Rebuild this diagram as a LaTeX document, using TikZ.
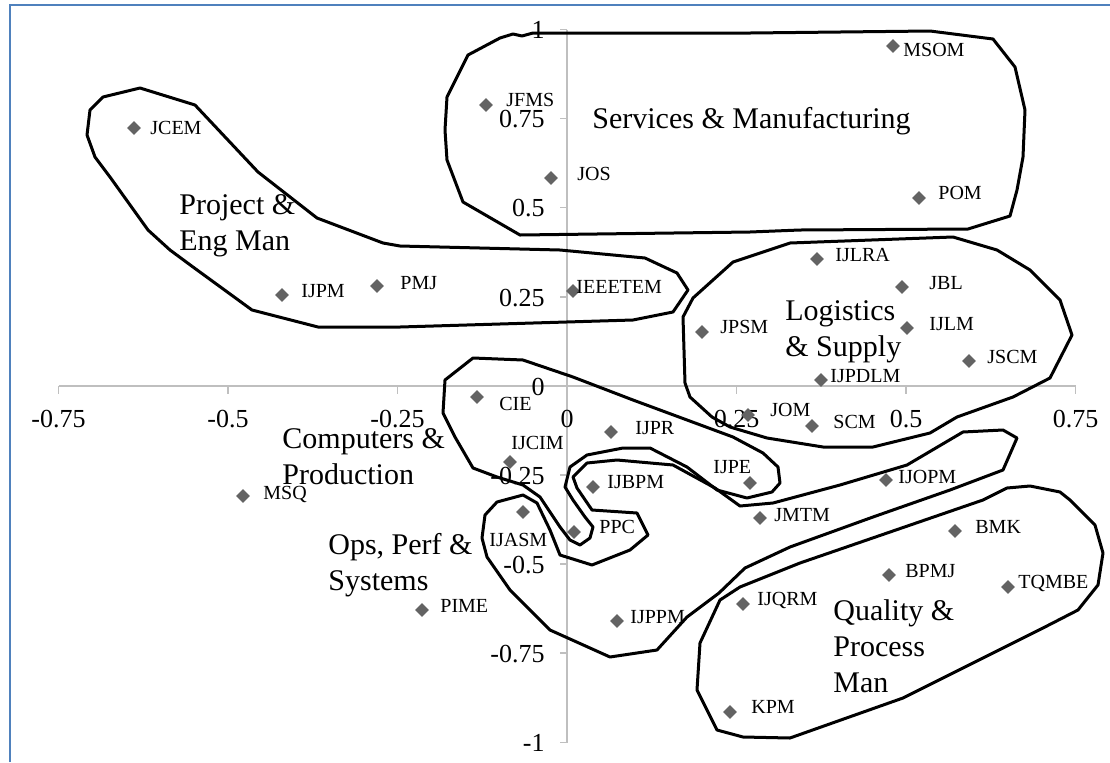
\documentclass[tikz,border=0pt]{standalone}
\usepackage{fontspec}
\setmainfont{Liberation Serif}
\usetikzlibrary{shapes.geometric}
\definecolor{ptgray}{HTML}{636363}
\definecolor{axgray}{HTML}{BFBFBF}
\definecolor{frameblue}{HTML}{4F81BD}
\begin{document}
\begin{tikzpicture}[x=0.5pt,y=-0.5pt,
 blob/.style={draw=black, line width=1.5pt, line join=round},
 axisline/.style={draw=axgray, line width=0.6pt},
 pt/.style={diamond, fill=ptgray, inner sep=0pt, minimum width=7pt, minimum height=7pt},
 lab/.style={anchor=west, inner sep=0pt, font=\fontsize{10}{12}\selectfont, text height=6.6pt, text depth=0pt},
 tickx/.style={anchor=base, inner sep=0pt, font=\fontsize{13}{15}\selectfont},
 ticky/.style={anchor=base east, inner sep=0pt, font=\fontsize{13}{15}\selectfont},
 grp/.style={anchor=north west, inner sep=0pt, align=left, font=\fontsize{15}{18}\selectfont},
 grpone/.style={anchor=base west, inner sep=0pt, font=\fontsize{15}{18}\selectfont}]
\useasboundingbox (0,0) rectangle (1110,762);
\fill[white] (0,0) rectangle (1110,762);
\draw[frameblue, line width=1pt] (10,762) -- (10,5) -- (1110,5);

% axes
\coordinate (xl) at (58.5,386);
\coordinate (xr) at (1075.5,386);
\coordinate (yt) at (567,29.5);
\coordinate (yb) at (567,742.5);
\draw[axisline] (xl) -- (xr);
\draw[axisline] (yt) -- (yb);
\foreach \xv/\t [count=\i] in {58.5/-0.75, 228/-0.5, 397.5/-0.25, 567/0, 736.5/0.25, 906/0.5, 1075.5/0.75} {
  \draw[axisline] (\xv,386) -- (\xv,394);
  \node[tickx] (tx\i) at (\xv,427) {\t};
}
\foreach \yv/\t [count=\i] in {29.5/1, 118.6/0.75, 207.75/0.5, 297/0.25, 386/0, 475/-0.25, 564/-0.5, 653/-0.75, 742.5/-1} {
  \draw[axisline] (560,\yv) -- (567,\yv);
  \node[ticky] (ty\i) at (545,{\yv+9}) {\t};
}

% Project & Eng Man
\draw[blob] (140,88) -- (195,105) -- (258,172) -- (317,218) -- (383,243) -- (400,246) -- (560,250) -- (645,258) -- (677,273) -- (688,290) -- (673,312) -- (633,320) -- (400,327) -- (318,327) -- (252,310) -- (193,267) -- (170,250) -- (148,230) -- (110,177) -- (95,157) -- (87,135) -- (90,110) -- (103,97) -- cycle;
% Services & Manufacturing
\draw[blob] (468,55) -- (500,38) -- (513,34) -- (522,36) -- (533,33) -- (567,33) -- (750,33) -- (930,31) -- (993,39) -- (1015,67) -- (1025,110) -- (1023,157) -- (1017,190) -- (1010,216) -- (968,229) -- (800,230) -- (750,232) -- (520,235) -- (463,202) -- (447,160) -- (445,130) -- (447,97) -- cycle;
% Logistics & Supply
\draw[blob] (685,383) -- (683,317) -- (693,298) -- (733,262) -- (790,243) -- (953,237) -- (997,250) -- (1030,270) -- (1060,300) -- (1072,335) -- (1050,378) -- (1013,397) -- (957,417) -- (930,433) -- (873,447) -- (823,447) -- (767,438) -- (730,427) -- (712,417) -- (690,397) -- cycle;
% Computers & Production
\draw[blob] (443,413) -- (445,380) -- (473,358) -- (523,360) -- (573,377) -- (633,400) -- (733,437) -- (763,453) -- (778,467) -- (780,483) -- (772,492) -- (747,498) -- (717,490) -- (687,467) -- (650,448) -- (623,448) -- (587,455) -- (570,467) -- (565,487) -- (573,500) -- (585,517) -- (593,527) -- (590,538) -- (580,545) -- (570,540) -- (560,527) -- (540,497) -- (523,485) -- (497,477) -- (473,468) -- (455,437) -- cycle;
% Ops, Perf & Systems
\draw[blob] (1017,438) -- (1003,470) -- (950,490) -- (873,517) -- (790,547) -- (745,568) -- (719,593) -- (687,617) -- (657,650) -- (610,657) -- (550,630) -- (510,590) -- (487,557) -- (482,538) -- (485,515) -- (497,502) -- (523,495) -- (537,503) -- (550,530) -- (560,555) -- (592,565) -- (630,550) -- (648,535) -- (637,513) -- (592,510) -- (577,488) -- (573,477) -- (587,463) -- (617,460) -- (673,465) -- (715,488) -- (740,506) -- (773,503) -- (840,485) -- (907,465) -- (963,432) -- (1003,430) -- cycle;
% Quality & Process Man
\draw[blob] (1030,486) -- (1060,492) -- (1070,500) -- (1095,525) -- (1103,553) -- (1098,585) -- (1078,610) -- (1043,628) -- (903,698) -- (790,738) -- (743,737) -- (717,730) -- (697,690) -- (700,643) -- (720,600) -- (740,587) -- (800,563) -- (983,500) -- (1007,488) -- cycle;

% points
\foreach \n/\dx/\dy/\lx/\ly in {JCEM/134/128/150/128, JFMS/486/105/506/100, JOS/551/178/577/174, MSOM/893/46/903/50, POM/919/198/938/193, IJPM/282/295/301/291, PMJ/377/286/400/283, IEEETEM/573/291/576/287, JPSM/702/332/720/327, CIE/477/397/499/404, IJPR/611/432/635/428, IJCIM/510/462/511/443, IJPE/750/483/713/467, IJBPM/593/487/607/482, IJLRA/817/259/835/255, JBL/902/287/929/283, IJLM/907/328/929/324, JSCM/969/361/987/357, IJPDLM/821/380/830/376, JOM/748/415/770/410, SCM/812/426/833/422, IJOPM/886/480/898/477, JMTM/760/518/774/515, BMK/955/531/975/527, BPMJ/889/575/905/571, TQMBE/1008/587/1018/582, IJQRM/743/604/757/599, KPM/730/712/751/707, IJASM/523/512/489/540, PPC/574/532/599/527, PIME/422/610/440/606, IJPPM/617/621/630/617, MSQ/243/496/263/493} {
  \node[pt] (d\n) at (\dx,\dy) {};
  \node[lab] (l\n) at (\lx,\ly) {\n};
}

% group labels
\node[grp] (gProj) at (179,194.5) {Project \&\\Eng Man};
\node[grpone] (gServ) at (592,128) {Services \& Manufacturing};
\node[grp] (gLog) at (785,300.5) {Logistics\\\& Supply};
\node[grp] (gComp) at (282,427.7) {Computers \&\\Production};
\node[grp] (gOps) at (328,532.5) {Ops, Perf \&\\Systems};
\node[grp] (gQual) at (833,599.5) {Quality \&\\Process\\Man};
\end{tikzpicture}
\end{document}
